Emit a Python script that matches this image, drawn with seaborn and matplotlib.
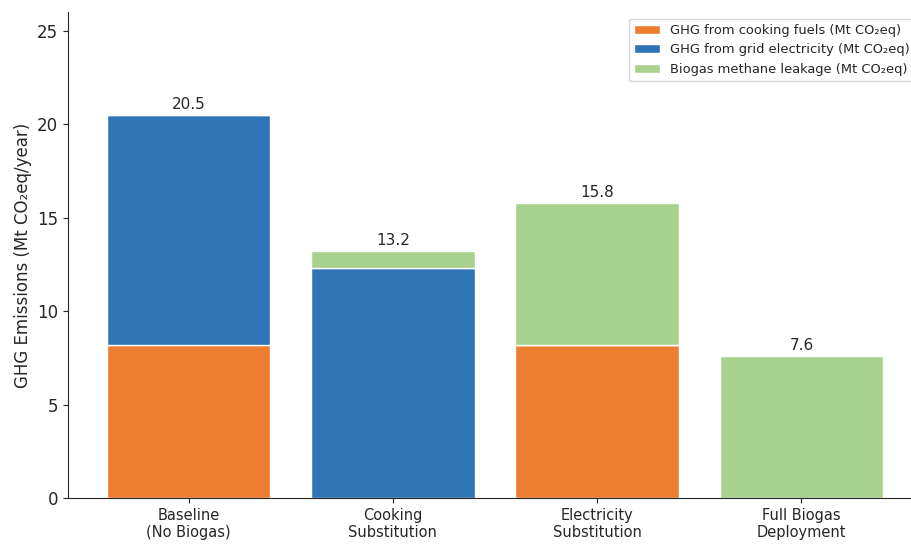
import numpy as np
import pandas as pd
import matplotlib
matplotlib.use("Agg")
import matplotlib.pyplot as plt
import seaborn as sns

scenarios = ["Baseline\n(No Biogas)", "Cooking\nSubstitution",
             "Electricity\nSubstitution", "Full Biogas\nDeployment"]
cooking_fuels = [8.2, 0.0, 8.2, 0.0]
grid_electricity = [12.3, 12.3, 0.0, 0.0]
methane_leakage = [0.0, 0.9, 7.6, 7.6]
totals = [20.5, 13.2, 15.8, 7.6]

series_labels = ["GHG from cooking fuels (Mt CO₂eq)",
                 "GHG from grid electricity (Mt CO₂eq)",
                 "Biogas methane leakage (Mt CO₂eq)"]
series_colors = ["#ED7D31", "#2E75B6", "#A9D18E"]

sns.set_style("ticks")
plt.rcParams["font.family"] = ["DejaVu Sans"]

df = pd.DataFrame({
    "scenario": scenarios,
    "cooking": cooking_fuels,
    "grid": grid_electricity,
    "leak": methane_leakage,
})

fig = plt.figure(figsize=(9.12, 5.44), dpi=100)
ax = fig.add_axes([68 / 912, 1 - 498 / 544, (922 - 68) / 912, 486 / 544])

bottom = np.zeros(len(scenarios))
for col, lab, colr in zip(["cooking", "grid", "leak"], series_labels, series_colors):
    sns.barplot(data=df, x="scenario", y=col, order=scenarios, color=colr,
                bottom=bottom, label=lab, width=0.8, edgecolor="white",
                linewidth=1, saturation=1, ax=ax)
    bottom = bottom + df[col].to_numpy()

for i, t in enumerate(totals):
    ax.text(i, t + 0.15, f"{t:.1f}", ha="center", va="bottom", fontsize=11)

ax.set_xlim(-0.59, 3.59)
ax.set_ylim(0, 26)
ax.set_yticks([0, 5, 10, 15, 20, 25])
ax.tick_params(axis="y", labelsize=12)
ax.tick_params(axis="x", labelsize=10.5)
ax.set_xlabel("")
ax.set_ylabel("GHG Emissions (Mt CO₂eq/year)", fontsize=12)
sns.despine(ax=ax)
ax.legend(loc="upper right", fontsize=9.4, frameon=True)

fig.savefig("out.png", dpi=100)
